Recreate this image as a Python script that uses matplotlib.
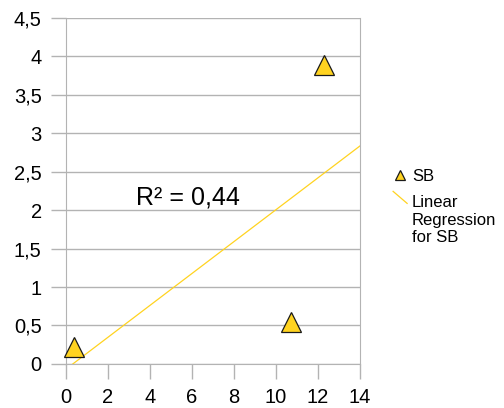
import matplotlib
matplotlib.use("Agg")
import matplotlib.pyplot as plt
import numpy as np
from matplotlib.legend_handler import HandlerLine2D
from matplotlib.lines import Line2D
from matplotlib.ticker import FuncFormatter

plt.rcParams["font.family"] = ["Liberation Sans", "DejaVu Sans"]

# SB measurements
sb_x = [0.36, 10.74, 12.31]
sb_y = [0.22, 0.54, 3.89]
x_ticks = [0, 2, 4, 6, 8, 10, 12, 14]
y_ticks = [0, 0.5, 1, 1.5, 2, 2.5, 3, 3.5, 4, 4.5]

YELLOW = "#ffd320"
GRID = "#b3b3b3"


class DiagonalLineHandler(HandlerLine2D):
    """Legend handle drawn as a short slanted stroke next to the first label line."""

    def create_artists(self, legend, orig_handle, xdescent, ydescent,
                       width, height, fontsize, trans):
        line = Line2D([xdescent, xdescent + width],
                      [2.1 * fontsize, 1.38 * fontsize],
                      color=orig_handle.get_color(),
                      lw=orig_handle.get_linewidth())
        line.set_transform(trans)
        return [line]


def comma(v, _pos):
    s = f"{v:g}"
    return s.replace(".", ",")


fig = plt.figure(figsize=(5.04, 4.08), dpi=100)
ax = fig.add_axes([0.131, 0.108, 0.583, 0.848])

x = np.array(sb_x)
y = np.array(sb_y)
slope, intercept = np.polyfit(x, y, 1)
pred = slope * x + intercept
r2 = 1 - np.sum((y - pred) ** 2) / np.sum((y - y.mean()) ** 2)

xs = np.linspace(0, 14, 200)
reg, = ax.plot(xs, slope * xs + intercept, color=YELLOW, lw=0.9,
               label="Linear\nRegression\nfor SB", zorder=2)
pts, = ax.plot(x, y, linestyle="none", marker="^", markersize=14,
               markerfacecolor=YELLOW, markeredgecolor="#1a1a1a",
               markeredgewidth=0.9, label="SB", zorder=3, clip_on=False)

ax.text(5.79, 2.17, "R² = " + f"{r2:.2f}".replace(".", ","),
        fontsize=18, ha="center", va="center")

ax.set_xlim(0, 14)
ax.set_ylim(0, 4.5)
ax.set_xticks(x_ticks)
ax.set_yticks(y_ticks)
ax.xaxis.set_major_formatter(FuncFormatter(comma))
ax.yaxis.set_major_formatter(FuncFormatter(comma))
ax.tick_params(axis="both", labelsize=14.5, color=GRID, length=10.5, width=1)
ax.tick_params(axis="x", pad=7)
ax.tick_params(axis="y", pad=7)

ax.grid(axis="y", color=GRID, lw=1)
ax.set_axisbelow(True)
for side in ("left", "right", "bottom"):
    ax.spines[side].set_color(GRID)
ax.spines["top"].set_visible(False)

fig.legend(handles=[pts, reg], loc="upper left",
           bbox_to_anchor=(0.78, 0.585), frameon=False, fontsize=12,
           handlelength=0.84, handletextpad=0.3, labelspacing=0.67,
           borderaxespad=0, borderpad=0,
           handler_map={reg: DiagonalLineHandler(),
                        pts: HandlerLine2D(numpoints=1, marker_pad=0)},
           markerscale=0.5)

fig.savefig("out.png", dpi=100)
